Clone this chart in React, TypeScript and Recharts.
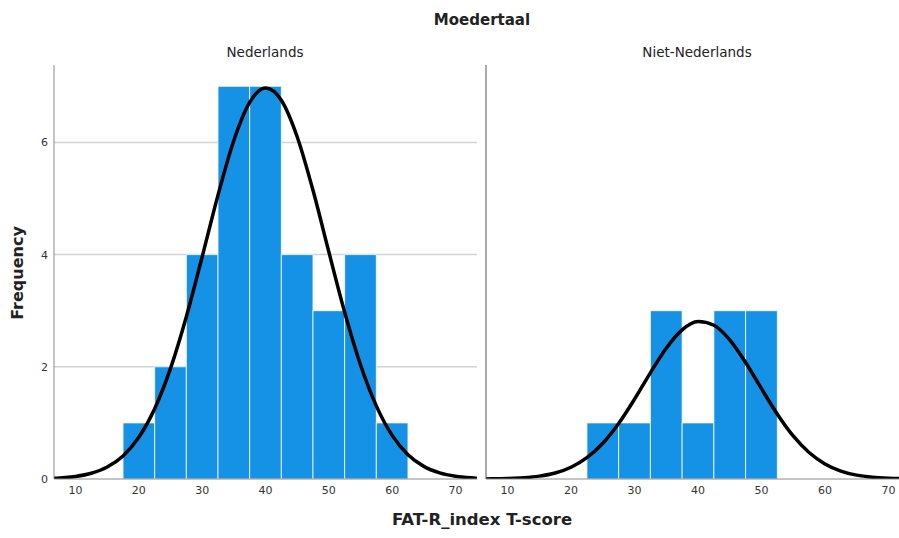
import { ComposedChart, Line, XAxis, YAxis, CartesianGrid, ReferenceArea } from "recharts"

const curveX = [
  6.6, 7.5, 10, 12.5, 15, 17.5, 20, 22.5, 25, 27.5, 30, 32.5, 35, 37.5, 40, 42.5, 45, 47.5, 50,
  52.5, 55, 57.5, 60, 62.5, 65, 67.5, 70, 72.5, 73.4,
]

// Nederlands
const nlBinLow = [17.5, 22.5, 27.5, 32.5, 37.5, 42.5, 47.5, 52.5, 57.5]
const nlCounts = [1, 2, 4, 7, 7, 4, 3, 4, 1]
const nlCurve = [
  0.014, 0.019, 0.046, 0.102, 0.213, 0.411, 0.743, 1.253, 1.971, 2.892, 3.961, 5.061, 6.035,
  6.714, 6.97, 6.751, 6.101, 5.146, 4.05, 2.973, 2.037, 1.303, 0.777, 0.432, 0.225, 0.109, 0.049,
  0.021, 0.015,
]

// Niet-Nederlands
const nnlBinLow = [22.5, 27.5, 32.5, 37.5, 42.5, 47.5]
const nnlCounts = [1, 1, 3, 1, 3, 3]
const nnlCurve = [
  0.002, 0.003, 0.009, 0.022, 0.051, 0.107, 0.21, 0.38, 0.638, 0.99, 1.423, 1.893, 2.331, 2.658,
  2.806, 2.741, 2.48, 2.077, 1.61, 1.155, 0.767, 0.472, 0.269, 0.142, 0.069, 0.031, 0.013, 0.005,
  0.004,
]

const BIN_W = 5
const xTicks = [10, 20, 30, 40, 50, 60, 70]
const yTicks = [0, 2, 4, 6]
const gridValues = [2, 4, 6]

const FONT = "'DejaVu Sans', Verdana, sans-serif"
const BLUE = "#1591e6"

function Panel({
  binLow,
  counts,
  curve,
  left,
  width,
  yAxisWidth,
  showYTicks,
}: {
  binLow: number[]
  counts: number[]
  curve: number[]
  left: number
  width: number
  yAxisWidth: number
  showYTicks: boolean
}) {
  const data = curveX.map((x, i) => ({ x, y: curve[i] }))
  return (
    <div style={{ position: "absolute", left, top: 0 }}>
      <ComposedChart
        width={width}
        height={538}
        data={data}
        margin={{ top: 65, right: 0, bottom: 29, left: 0 }}
      >
        <CartesianGrid
          vertical={false}
          horizontalValues={gridValues}
          stroke="#d2d2d2"
          strokeWidth={1.5}
        />
        <XAxis
          dataKey="x"
          type="number"
          domain={[6.6, 73.4]}
          ticks={xTicks}
          allowDataOverflow
          height={30}
          tickSize={0}
          tickMargin={7}
          stroke="#8a8a8a"
          tick={{ fontSize: 11, fill: "#333", fontFamily: FONT }}
        />
        <YAxis
          type="number"
          domain={[0, 7.38]}
          ticks={yTicks}
          allowDataOverflow
          width={yAxisWidth}
          tickSize={0}
          tickMargin={6}
          stroke={showYTicks ? "#8a8a8a" : "#555"}
          tick={showYTicks ? { fontSize: 11, fill: "#333", fontFamily: FONT } : false}
        />
        {binLow.map((lo, i) => (
          <ReferenceArea
            key={lo}
            x1={lo}
            x2={lo + BIN_W}
            y1={0}
            y2={counts[i]}
            fill={BLUE}
            fillOpacity={1}
            stroke="#ffffff"
            strokeWidth={1}
            strokeOpacity={0.8}
          />
        ))}
        <Line
          dataKey="y"
          type="monotone"
          stroke="#000"
          strokeWidth={3.5}
          dot={false}
          activeDot={false}
          isAnimationActive={false}
        />
      </ComposedChart>
    </div>
  )
}

const label = (text: string, x: number, y: number, size: number, bold = false) => (
  <div
    style={{
      position: "absolute",
      left: x,
      top: y,
      transform: "translateX(-50%)",
      whiteSpace: "nowrap",
      fontSize: size,
      fontWeight: bold ? "bold" : "normal",
      color: "#222",
      lineHeight: 1,
    }}
  >
    {text}
  </div>
)

export default function App() {
  return (
    <div
      style={{
        position: "absolute",
        left: 0,
        top: 0,
        width: 899,
        height: 538,
        overflow: "hidden",
        background: "#fff",
        fontFamily: FONT,
      }}
    >
      <Panel
        binLow={nlBinLow}
        counts={nlCounts}
        curve={nlCurve}
        left={0}
        width={477}
        yAxisWidth={54}
        showYTicks
      />
      <Panel
        binLow={nnlBinLow}
        counts={nnlCounts}
        curve={nnlCurve}
        left={476}
        width={434}
        yAxisWidth={10}
        showYTicks={false}
      />
      {label("Moedertaal", 482, 13, 15, true)}
      {label("Nederlands", 265, 46, 13.5)}
      {label("Niet-Nederlands", 697, 46, 13.5)}
      {label("FAT-R_index T-score", 482, 512, 16.5, true)}
      <div
        style={{
          position: "absolute",
          left: 18,
          top: 273,
          transform: "translate(-50%, -50%) rotate(-90deg)",
          whiteSpace: "nowrap",
          fontSize: 16,
          fontWeight: "bold",
          color: "#222",
          lineHeight: 1,
        }}
      >
        Frequency
      </div>
    </div>
  )
}
